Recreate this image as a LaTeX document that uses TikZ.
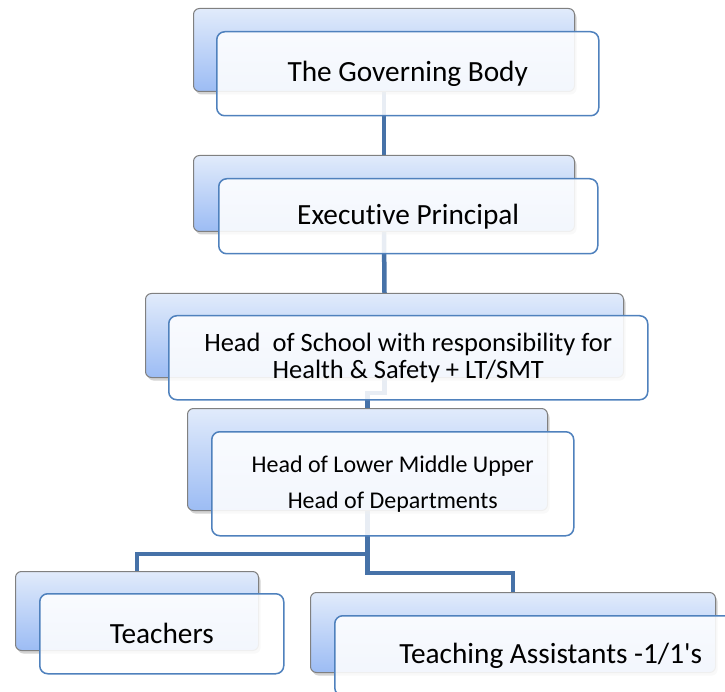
\documentclass[tikz,border=0pt]{standalone}
\usepackage{fontspec}
\setmainfont{Carlito}[Ligatures={NoCommon}]
\usetikzlibrary{shadows}
\definecolor{connc}{HTML}{4672A8}
\definecolor{frontborder}{HTML}{4F81BD}
\definecolor{backtop}{HTML}{E1EBFB}
\definecolor{backbot}{HTML}{9CBCF4}
\definecolor{backborder}{HTML}{808080}
\pgfdeclarelayer{bg}
\pgfsetlayers{bg,main}
\tikzset{
  backbox/.style={draw=backborder, line width=1pt, rounded corners=6pt,
    top color=backtop, bottom color=backbot, anchor=north west, inner sep=0pt,
    drop shadow={shadow xshift=2pt, shadow yshift=-3pt, opacity=0.35}},
  frontbox/.style={draw=frontborder, line width=1.5pt, rounded corners=8pt,
    fill=white, fill opacity=0.88, text opacity=1, anchor=north west,
    inner sep=0pt, align=center},
  conn/.style={draw=connc, line width=4.5pt},
  bigtext/.style={font=\fontsize{29.3}{34}\selectfont},
}
\begin{document}
\begin{tikzpicture}[x=1pt,y=-1pt]
\useasboundingbox (0,0) rectangle (725,692);
\clip (0,0) rectangle (725,692);
% back boxes
\node[backbox, minimum width=381pt, minimum height=83pt] (b1) at (193,8) {};
\node[backbox, minimum width=381pt, minimum height=76pt] (b2) at (193,155) {};
\node[backbox, minimum width=478pt, minimum height=84pt] (b3) at (145,293) {};
\node[backbox, minimum width=360pt, minimum height=102pt] (b4) at (187,408) {};
\node[backbox, minimum width=243pt, minimum height=79pt] (b5) at (15,571) {};
\node[backbox, minimum width=405pt, minimum height=80pt] (b6) at (310,592) {};
% front boxes
\node[frontbox, bigtext, minimum width=382pt, minimum height=84pt] (f1) at (216,31) {The Governing Body};
\node[frontbox, bigtext, minimum width=379pt, minimum height=75pt] (f2) at (218,178) {Executive Principal};
\node[frontbox, font=\fontsize{26.5}{27}\selectfont, minimum width=479pt, minimum height=84pt] (f3) at (168,315) {Head\ \ of School with responsibility for\\Health \& Safety + LT/SMT};
\node[frontbox, font=\fontsize{24}{36}\selectfont, minimum width=362pt, minimum height=104pt] (f4) at (211,431) {Head of Lower Middle Upper\\Head of Departments};
\node[frontbox, bigtext, minimum width=244pt, minimum height=80pt] (f5) at (39,593) {Teachers};
\node[frontbox, bigtext, minimum width=432pt, minimum height=80pt] (f6) at (334,615) {Teaching Assistants -1/1\textquotesingle s};
% connectors
\begin{pgfonlayer}{bg}
\draw[conn] (b1.south) -- (b2.north);
\draw[conn] (b2.south) -- (b3.north);
\draw[conn] (b3.south) -- ++(0,15) -| (b4.north);
\draw[conn] (b4.south) -- ++(0,43) -| (b5.north);
\draw[conn] (b4.south) -- ++(0,62) -| (b6.north);
\end{pgfonlayer}
\end{tikzpicture}
\end{document}
